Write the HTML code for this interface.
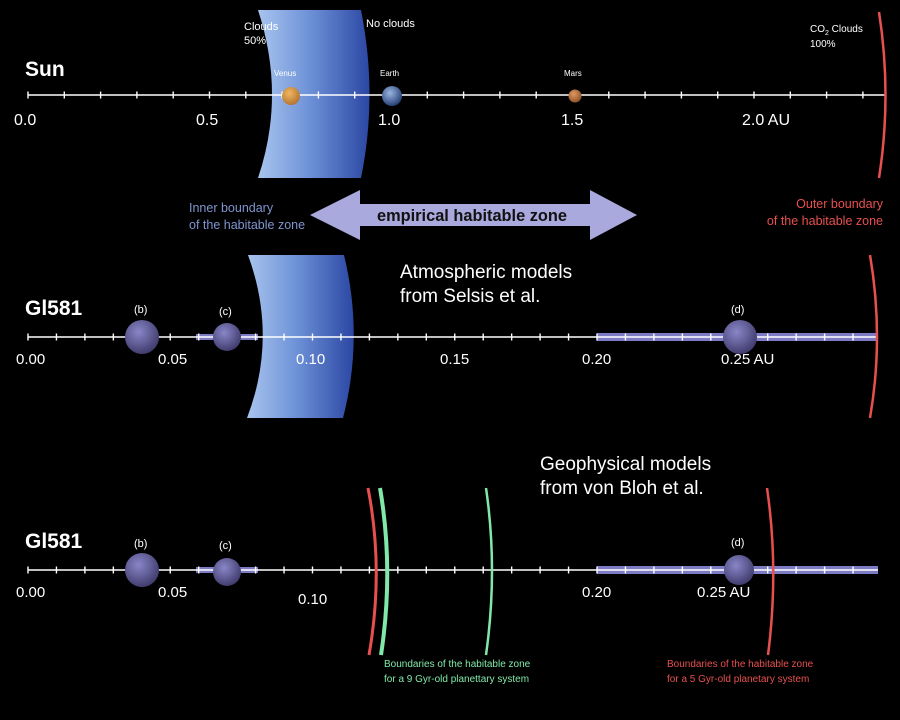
<!DOCTYPE html>
<html><head><meta charset="utf-8"><style>
html,body{margin:0;padding:0;background:#000;width:900px;height:720px;overflow:hidden}
svg{display:block}
text{font-family:"Liberation Sans",sans-serif}
</style></head><body>
<svg width="900" height="720" viewBox="0 0 900 720" xmlns="http://www.w3.org/2000/svg">
<defs>
<linearGradient id="bg" x1="0" x2="1" y1="0" y2="0">
<stop offset="0" stop-color="#a8c4ee"/><stop offset="0.45" stop-color="#6f93d8"/><stop offset="1" stop-color="#2b47a3"/>
</linearGradient>
<radialGradient id="pl" cx="0.4" cy="0.35" r="0.7">
<stop offset="0" stop-color="#8a86c8"/><stop offset="1" stop-color="#3c3868"/>
</radialGradient>
<radialGradient id="ve" cx="0.4" cy="0.35" r="0.7"><stop offset="0" stop-color="#f0b860"/><stop offset="1" stop-color="#b07030"/></radialGradient>
<radialGradient id="ea" cx="0.4" cy="0.35" r="0.7"><stop offset="0" stop-color="#9ab4e0"/><stop offset="1" stop-color="#203a70"/></radialGradient>
<radialGradient id="ma" cx="0.4" cy="0.35" r="0.7"><stop offset="0" stop-color="#e09860"/><stop offset="1" stop-color="#8a5028"/></radialGradient>
</defs>

<!-- TOP: Sun -->
<path d="M258,10 L361,10 Q378,95 361,178 L258,178 Q286,95 258,10 Z" fill="url(#bg)"/>
<text x="244" y="30" fill="#fff" font-size="11">Clouds</text>
<text x="244" y="44" fill="#fff" font-size="11">50%</text>
<text x="366" y="27" fill="#fff" font-size="11">No clouds</text>
<text x="25" y="76" fill="#fff" font-size="21" font-weight="bold">Sun</text>
<line x1="28" y1="95" x2="886" y2="95" stroke="#fff" stroke-width="1.5"/>
<line x1="27.3" y1="95" x2="886" y2="95" stroke="#fff" stroke-width="7" stroke-dasharray="1.4 34.9"/>
<text x="274" y="76" fill="#fff" font-size="8">Venus</text>
<circle cx="291" cy="96" r="9" fill="url(#ve)"/>
<text x="380" y="76" fill="#fff" font-size="8">Earth</text>
<circle cx="392" cy="96" r="10" fill="url(#ea)"/>
<text x="564" y="76" fill="#fff" font-size="8">Mars</text>
<circle cx="575" cy="96" r="6.5" fill="url(#ma)"/>
<g fill="#fff" font-size="16">
<text x="14" y="125">0.0</text><text x="196" y="125">0.5</text><text x="378" y="125">1.0</text><text x="561" y="125">1.5</text><text x="742" y="125">2.0 AU</text>
</g>
<text x="810" y="32" fill="#fff" font-size="10">CO<tspan font-size="7" dy="3">2</tspan><tspan dy="-3"> Clouds</tspan></text>
<text x="810" y="47" fill="#fff" font-size="10">100%</text>
<path d="M879,12 Q892,95 879,178" fill="none" stroke="#e85050" stroke-width="2.5"/>

<!-- Arrow -->
<path d="M310,215 L360,190 L360,204 L590,204 L590,190 L637,215 L590,240 L590,226 L360,226 L360,240 Z" fill="#a9a9dd"/>
<text x="377" y="221" fill="#111" font-size="17" font-weight="bold" textLength="190" lengthAdjust="spacingAndGlyphs">empirical habitable zone</text>
<text x="189" y="212" fill="#7f95cf" font-size="12.5">Inner boundary</text>
<text x="189" y="229" fill="#7f95cf" font-size="12.5">of the habitable zone</text>
<text x="883" y="208" fill="#e85050" font-size="12.5" text-anchor="end">Outer boundary</text>
<text x="883" y="225" fill="#e85050" font-size="12.5" text-anchor="end">of the habitable zone</text>

<!-- MIDDLE: Gl581 Selsis -->
<path d="M248,255 L344,255 Q364,337 343,418 L247,418 Q278,337 248,255 Z" fill="url(#bg)"/>
<text x="400" y="278" fill="#fff" font-size="19">Atmospheric models</text>
<text x="400" y="302" fill="#fff" font-size="19">from Selsis et al.</text>
<text x="25" y="315" fill="#fff" font-size="21" font-weight="bold">Gl581</text>
<rect x="196" y="334" width="62" height="6" fill="#7d7bc4"/>
<rect x="597" y="333" width="281" height="8" fill="#7d7bc4"/>
<line x1="28" y1="337" x2="878" y2="337" stroke="#fff" stroke-width="1.5"/>
<line x1="27.3" y1="337" x2="878" y2="337" stroke="#fff" stroke-width="7" stroke-dasharray="1.4 27.05"/>
<circle cx="142" cy="337" r="17" fill="url(#pl)"/>
<circle cx="227" cy="337" r="14" fill="url(#pl)"/>
<circle cx="740" cy="337" r="17" fill="url(#pl)"/>
<g fill="#fff" font-size="11"><text x="134" y="313">(b)</text><text x="219" y="315">(c)</text><text x="731" y="313">(d)</text></g>
<g fill="#fff" font-size="15">
<text x="16" y="364">0.00</text><text x="158" y="364">0.05</text><text x="296" y="364">0.10</text><text x="440" y="364">0.15</text><text x="582" y="364">0.20</text><text x="721" y="364">0.25 AU</text>
</g>
<path d="M870,255 Q884,337 870,418" fill="none" stroke="#e85050" stroke-width="2.5"/>

<!-- BOTTOM: Gl581 von Bloh -->
<text x="540" y="470" fill="#fff" font-size="19">Geophysical models</text>
<text x="540" y="494" fill="#fff" font-size="19">from von Bloh et al.</text>
<text x="25" y="548" fill="#fff" font-size="21" font-weight="bold">Gl581</text>
<rect x="196" y="567" width="62" height="6" fill="#7d7bc4"/>
<rect x="597" y="566" width="281" height="8" fill="#7d7bc4"/>
<line x1="28" y1="570" x2="878" y2="570" stroke="#fff" stroke-width="1.5"/>
<line x1="27.3" y1="570" x2="878" y2="570" stroke="#fff" stroke-width="7" stroke-dasharray="1.4 27.05"/>
<circle cx="142" cy="570" r="17" fill="url(#pl)"/>
<circle cx="227" cy="572" r="14" fill="url(#pl)"/>
<circle cx="739" cy="570" r="15" fill="url(#pl)"/>
<g fill="#fff" font-size="11"><text x="134" y="547">(b)</text><text x="219" y="549">(c)</text><text x="731" y="546">(d)</text></g>
<g fill="#fff" font-size="15">
<text x="16" y="597">0.00</text><text x="158" y="597">0.05</text><text x="298" y="604">0.10</text><text x="582" y="597">0.20</text><text x="697" y="597">0.25 AU</text>
</g>
<path d="M368,488 Q384,570 369,655" fill="none" stroke="#e85050" stroke-width="3"/>
<path d="M380,488 Q394,570 381,655" fill="none" stroke="#80e8a8" stroke-width="4"/>
<path d="M486,488 Q498,570 486,655" fill="none" stroke="#80e8a8" stroke-width="2.5"/>
<path d="M767,488 Q779,570 768,655" fill="none" stroke="#e85050" stroke-width="2.5"/>
<text x="384" y="667" fill="#80e8a8" font-size="10">Boundaries of the habitable zone</text>
<text x="384" y="682" fill="#80e8a8" font-size="10">for a 9 Gyr-old planettary system</text>
<text x="667" y="667" fill="#e85050" font-size="10">Boundaries of the habitable zone</text>
<text x="667" y="682" fill="#e85050" font-size="10">for a 5 Gyr-old planetary system</text>
</svg>
</body></html>
